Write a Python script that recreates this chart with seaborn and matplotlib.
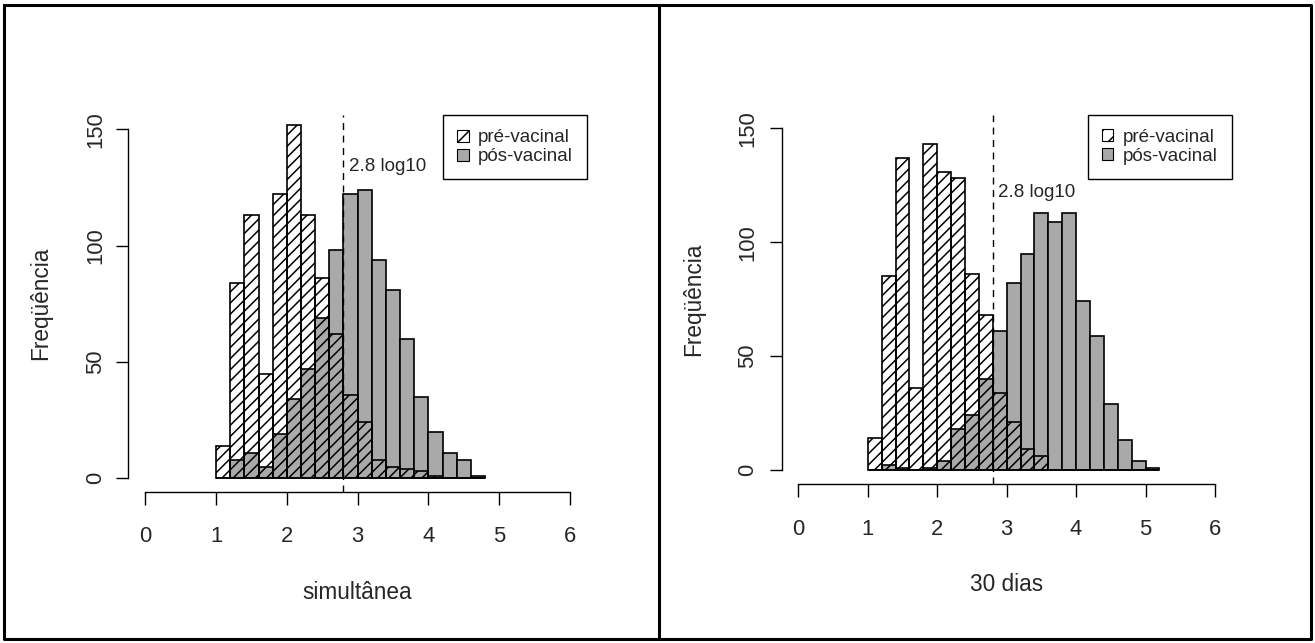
# coding:utf-8
# histogramas pré / pós-vacinal (simultânea e 30 dias)

import numpy as np
import pandas as pd
import matplotlib
matplotlib.use("Agg")
import matplotlib.pyplot as plt
from matplotlib.patches import Patch
from matplotlib.lines import Line2D
import seaborn as sns

sns.set_style("white")
plt.rcParams['font.family'] = ['Liberation Sans', 'DejaVu Sans']
plt.rcParams['hatch.linewidth'] = 1.1

# dados (classes de 0.2 log10)
left_edges = [1.0, 1.2, 1.4, 1.6, 1.8, 2.0, 2.2, 2.4, 2.6, 2.8, 3.0,
              3.2, 3.4, 3.6, 3.8, 4.0, 4.2, 4.4, 4.6, 4.8]
left_pre = [14, 84, 113, 45, 122, 152, 113, 86, 62, 36, 24, 8, 5, 4, 3, 1, 0, 0, 0]
left_post = [0, 8, 11, 5, 19, 34, 47, 69, 98, 122, 124, 94, 81, 60, 35, 20, 11, 8, 1]

right_edges = [1.0, 1.2, 1.4, 1.6, 1.8, 2.0, 2.2, 2.4, 2.6, 2.8, 3.0,
               3.2, 3.4, 3.6, 3.8, 4.0, 4.2, 4.4, 4.6, 4.8, 5.0, 5.2]
right_pre = [14, 85, 137, 36, 143, 131, 128, 86, 68, 34, 21, 9, 6,
             0, 0, 0, 0, 0, 0, 0, 0]
right_post = [0, 2, 1, 0, 1, 4, 18, 24, 40, 61, 82, 95, 113, 109, 113,
              74, 59, 29, 13, 4, 1]

cutoff = 2.8
x_ticks = [0, 1, 2, 3, 4, 5, 6]
y_ticks = [0, 50, 100, 150]
legend_labels = ["pré-vacinal", "pós-vacinal"]

GRAY = "#a9a9a9"
FS_TICK = 15.8
FS_LAB = 16.3
FS = 13.5
W, H = 1315, 643


def px_axes(fig, x0, x1, y0, y1):
    return fig.add_axes([x0 / W, 1 - y1 / H, (x1 - x0) / W, (y1 - y0) / H])


def draw_panel(ax, edges, pre, post, xlabel, ylim, text_y, xpad, ypad, ytpad):
    e = np.array(edges)
    mids = (e[:-1] + e[1:]) / 2
    df = pd.DataFrame({"mid": mids, "pre": pre, "post": post})

    # pós-vacinal: barras cinza
    sns.histplot(data=df, x="mid", weights="post", bins=list(edges), color=GRAY,
                 alpha=1, edgecolor="black", linewidth=1.2, ax=ax)
    n0 = len(ax.patches)
    # pré-vacinal: hachurado transparente por cima
    sns.histplot(data=df, x="mid", weights="pre", bins=list(edges), color="white",
                 alpha=1, edgecolor="black", linewidth=1.2, ax=ax)
    for p in ax.patches[n0:]:
        p.set_facecolor("none")
        p.set_hatch("///")

    ax.axvline(cutoff, color="black", lw=1, dashes=(5, 4))
    ax.text(cutoff + 0.08, text_y, "2.8 log10", fontsize=FS, ha="left", va="center")

    ax.set_xlim(-0.24, 6.24)
    ax.set_ylim(*ylim)
    ax.set_xticks(x_ticks)
    ax.set_yticks(y_ticks)
    for s in ["top", "right"]:
        ax.spines[s].set_visible(False)
    ax.spines["left"].set_bounds(0, 150)
    ax.spines["bottom"].set_bounds(0, 6)
    for s in ["left", "bottom"]:
        ax.spines[s].set_color("black")
        ax.spines[s].set_linewidth(1.0)
    ax.tick_params(axis="both", direction="out", length=9, width=1.0,
                   color="black", labelsize=FS_TICK, bottom=True, left=True)
    ax.tick_params(axis="x", pad=16)
    ax.tick_params(axis="y", pad=ytpad, labelrotation=90)
    for lab in ax.get_yticklabels():
        lab.set_va("center")

    ax.set_xlabel(xlabel, fontsize=FS_LAB, labelpad=xpad)
    ax.set_ylabel("Freqüência", fontsize=FS_LAB, labelpad=ypad)

    handles = [Patch(facecolor="white", edgecolor="black", hatch="//", lw=0.8),
               Patch(facecolor=GRAY, edgecolor="black", lw=0.8)]
    leg = ax.legend(handles, legend_labels, loc="upper right", fontsize=FS,
                    frameon=True, fancybox=False, framealpha=1, edgecolor="black",
                    borderaxespad=0, borderpad=0.75, labelspacing=0.1,
                    handlelength=0.6, handleheight=0.6, handletextpad=0.5)
    leg.get_frame().set_linewidth(1.0)


fig = plt.figure(figsize=(W / 100, H / 100), dpi=100)

ax1 = px_axes(fig, 128.3, 587.0, 115.3, 491.7)
draw_panel(ax1, left_edges, left_pre, left_post, "simultânea",
           (-5.76, 156), 134, 24, 23.5, 7)

ax2 = px_axes(fig, 781.6, 1231.7, 114.6, 484.0)
draw_panel(ax2, right_edges, right_pre, right_post, "30 dias",
           (-6.15, 156), 122, 24, 23, 8)

# molduras das figuras
lw = 2.2
xs = [4 / W, 1311 / W, 1311 / W, 4 / W, 4 / W]
ys = [1 - 5 / H, 1 - 5 / H, 1 - 639 / H, 1 - 639 / H, 1 - 5 / H]
fig.add_artist(Line2D(xs, ys, color="black", lw=lw, transform=fig.transFigure))
fig.add_artist(Line2D([659 / W, 659 / W], [1 - 5 / H, 1 - 639 / H], color="black",
                      lw=lw, transform=fig.transFigure))

plt.savefig("out.png", dpi=100)
plt.close()
